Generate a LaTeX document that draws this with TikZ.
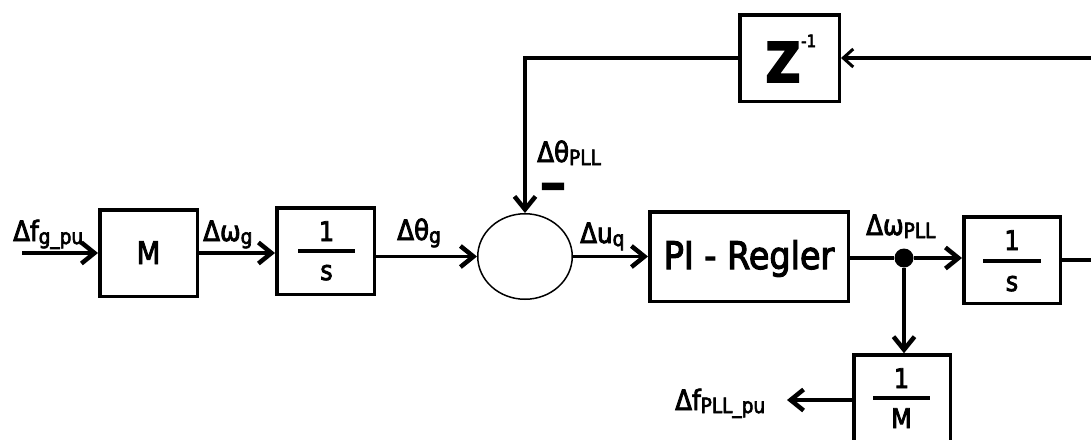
\documentclass[tikz,border=0pt]{standalone}
\usepackage{fontspec}
\setmainfont{DejaVu Sans}[FakeStretch=0.88,FakeBold=3]
\usetikzlibrary{arrows.meta,shapes.geometric}
\newcommand\fsz[1]{\fontsize{#1}{#1}\selectfont}
\newcommand\sbx[1]{\raisebox{-3pt}{\fsz{21}#1}}
\begin{document}
\begin{tikzpicture}[x=1pt,y=-1pt,
  blk/.style={draw,line width=3.5pt,inner sep=0pt},
  lbl/.style={inner sep=0pt,anchor=base west,font={\fsz{28}}},
  num/.style={inner sep=0pt,anchor=base,font={\fsz{27}}},
  sig/.style={line width=3.5pt},
  fracline/.style={line width=3.5pt},
  arr/.style={sig,-{Straight Barb[length=13pt,width=21pt,line width=4.5pt]}},
  sarr/.style={sig,-{Straight Barb[length=10pt,width=18pt,line width=3pt]}},
]
\useasboundingbox (0,0) rectangle (1091,439);
\clip (0,0) rectangle (1091,439);

% blocks
\node[blk,minimum width=97.5pt,minimum height=86.5pt] (M) at (148.5,253) {};
\node[num,font={\fsz{31}}] (Mt) at (148.5,264) {M};

\node[blk,minimum width=97.5pt,minimum height=86.5pt] (I1) at (325.5,251) {};
\draw[fracline] (298,251) -- (355,251);
\node[num] (I1n) at (326.5,241) {1};
\node[num] (I1d) at (326.5,280) {s};

\node[draw,ellipse,line width=1.5pt,minimum width=94.5pt,minimum height=85.5pt,inner sep=0pt] (S) at (525,256.5) {};

\node[blk,minimum width=198.5pt,minimum height=89.5pt] (PI) at (749,256.5) {};
\node[inner sep=0pt,anchor=base,font={\fsz{38}}] (PIt) at (749,269) {PI - Regler};

\node[blk,minimum width=96.5pt,minimum height=86.5pt] (I2) at (1012,260) {};
\draw[fracline] (983,261) -- (1041,261);
\node[num] (I2n) at (1012,250) {1};
\node[num] (I2d) at (1012,291) {s};

\node[blk,minimum width=99.5pt,minimum height=86.5pt] (Z) at (789.5,58) {};
\node[inner sep=0pt,anchor=base,font={\bfseries\fsz{55}}] (Zt) at (783,82) {Z};
\node[inner sep=0pt,anchor=base west,font={\fsz{17}}] (Zs) at (801,47) {-1};

\node[blk,minimum width=96.5pt,minimum height=100pt] (IM) at (902,405) {};
\draw[fracline] (873,398) -- (930,398);
\node[num] (IMn) at (901.5,388) {1};
\node[num,font={\fsz{27}}] (IMd) at (901.5,428) {M};

\node[circle,fill,inner sep=0pt,minimum size=19pt] (D) at (904,258) {};

% labels
\node[lbl] (Lfg) at (13,241) {Δf\sbx{g\_pu}};
\node[lbl] (Lwg) at (203,241) {Δω\sbx{g}};
\node[lbl] (Ltg) at (397,240) {Δθ\sbx{g}};
\node[lbl] (Luq) at (580,243) {Δu\sbx{q}};
\node[lbl] (Ltp) at (537,162) {Δθ\sbx{PLL}};
\node[inner sep=0pt,anchor=base,text height=12pt,text depth=0pt,font={\bfseries\fsz{44}}] (minus) at (553,199) {\scalebox{1.7}[1]{-}};
\node[lbl] (Lwp) at (866,235) {Δω\sbx{PLL}};
\node[lbl] (Lfp) at (675,410) {Δf\sbx{PLL\_pu}};

% connectors
\coordinate (in) at (22,253);
\coordinate (fb) at (1110,260);
\coordinate (fo) at (787,400);
\draw[arr] (in) -- (M.west |- in);
\draw[arr] (M.east) -- (M.east -| I1.west);
\draw[arr] (I1.east |- S.west) -- (S.west);
\draw[arr] (S.east) -- (S.east -| PI.west);
\draw[sig] (PI.east |- D) -- (D);
\draw[arr] (D) -- (D -| I2.west);
\draw[arr] (D) -- (D |- IM.north);
\draw[sarr] (I2.east) -- (fb) |- (Z.east);
\draw[arr] (Z.west) -- (Z.west -| S.north) -- (S.north);
\draw[arr] (fo -| IM.west) -- (fo);
\end{tikzpicture}
\end{document}
